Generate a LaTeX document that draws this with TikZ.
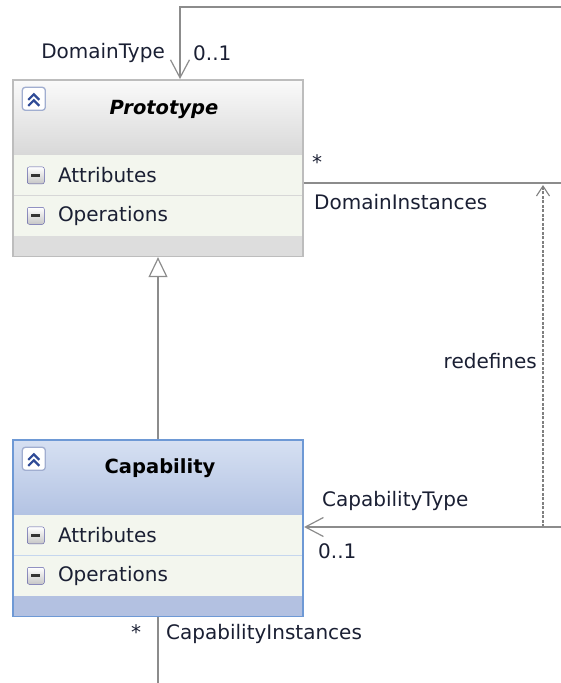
\documentclass[tikz,border=0pt]{standalone}
\usepackage{fontspec}
\setmainfont{DejaVu Sans}
\usetikzlibrary{arrows.meta}
\usetikzlibrary{fit}
\usetikzlibrary{positioning}
\definecolor{protoTop}{HTML}{FAFAFA}
\definecolor{protoBot}{HTML}{D8D8D8}
\definecolor{protoFoot}{HTML}{DDDDDD}
\definecolor{protoLine}{HTML}{BDBDBD}
\definecolor{capTop}{HTML}{D6E0F2}
\definecolor{capBot}{HTML}{B3C3E3}
\definecolor{capFoot}{HTML}{B3C1E1}
\definecolor{capLine}{HTML}{6E99D5}
\definecolor{rowFill}{HTML}{F3F6EE}
\definecolor{connGray}{HTML}{8C8C8C}
\definecolor{inkBlue}{HTML}{1A1F33}
\definecolor{iconBlue}{HTML}{2F4B97}
\tikzset{head/.style={rectangle, minimum width=290pt, minimum height=75pt, inner sep=0pt}}
\tikzset{protohead/.style={head, top color=protoTop, bottom color=protoBot}}
\tikzset{caphead/.style={head, top color=capTop, bottom color=capBot}}
\tikzset{row/.style={rectangle, fill=rowFill, minimum width=288pt, minimum height=40pt, inner sep=0pt}}
\tikzset{foot/.style={rectangle, minimum width=290pt, minimum height=20pt, inner sep=0pt}}
\tikzset{rowlabel/.style={anchor=west, xshift=44pt, inner sep=0pt, text=inkBlue}}
\tikzset{lbl/.style={inner sep=0pt, text=inkBlue, anchor=west}}
\tikzset{assoc/.style={draw=connGray, line width=1.4pt, -{Straight Barb[length=18pt, width=19pt, line width=1.2pt]}}}
\tikzset{gen/.style={draw=connGray, line width=1.4pt, -{Triangle[open, length=20pt, width=19pt, fill=white, line width=1.2pt]}}}
\tikzset{dep/.style={draw=gray, line width=1.4pt, dash pattern=on 3pt off 1.5pt, -{Straight Barb[length=10pt, width=13pt, line width=1.1pt]}}}
\tikzset{minusicon/.pic={
  \draw[rounded corners=2pt, draw=gray!70!blue, top color=white, bottom color=gray!45] (-8.5,-8.5) rectangle (8.5,8.5);
  \draw[line width=2.8pt, black!80] (-4.5,0) -- (4.5,0);
}}
\tikzset{collapseicon/.pic={
  \draw[rounded corners=3pt, draw=iconBlue!45, line width=1.3pt, fill=white] (-11.5,-11.5) rectangle (11.5,11.5);
  \draw[line width=2.2pt, iconBlue] (-5.5,1) -- (0,-4.5) -- (5.5,1);
  \draw[line width=2.2pt, iconBlue] (-5.5,7) -- (0,1.5) -- (5.5,7);
}}

\begin{document}
\begin{tikzpicture}[x=1pt, y=-1pt, font=\fontsize{20}{23}\selectfont]

    \useasboundingbox (0,0) rectangle (561,683);

    % Prototype
    \node[protohead, label={[xshift=6pt, yshift=8.5pt, font=\fontsize{19.5}{22}\selectfont]center:\textbf{\textit{Prototype}}}] (proto) at (158,117.5) {};
    \node[row, below=0pt of proto, label={[rowlabel]west:Attributes}] (pattr) {};
    \node[row, below=0pt of pattr, label={[rowlabel]west:Operations}] (pops) {};
    \node[foot, fill=protoFoot, below=0pt of pops] (pfoot) {};
    \draw[protoLine!60] (pattr.south west) -- (pattr.south east);
    \node[draw=protoLine, line width=1.5pt, fit=(proto)(pfoot), inner sep=0pt] (prototype) {};
    \pic at ([xshift=21pt, yshift=-19pt]proto.north west) {collapseicon};
    \pic at ([xshift=22pt]pattr.west) {minusicon};
    \pic at ([xshift=22pt]pops.west) {minusicon};

    % Capability
    \node[caphead, label={[xshift=2pt, yshift=9.5pt, font=\fontsize{19.5}{22}\selectfont]center:\textbf{Capability}}] (cap) at (158,477.5) {};
    \node[row, below=0pt of cap, label={[rowlabel]west:Attributes}] (cattr) {};
    \node[row, below=0pt of cattr, label={[rowlabel]west:Operations}] (cops) {};
    \node[foot, fill=capFoot, below=0pt of cops] (cfoot) {};
    \draw[capLine!40] (cattr.south west) -- (cattr.south east);
    \node[draw=capLine, line width=1.8pt, fit=(cap)(cfoot), inner sep=0pt] (capability) {};
    \pic at ([xshift=21pt, yshift=-19pt]cap.north west) {collapseicon};
    \pic at ([xshift=22pt]cattr.west) {minusicon};
    \pic at ([xshift=22pt]cops.west) {minusicon};

    % connectors
    \coordinate (dtturn) at (180,7);
    \coordinate (dtend) at (561,7);
    \coordinate (diend) at (561,183);
    \coordinate (ctend) at (561,527);
    \coordinate (rdfrom) at (543,527);
    \coordinate (rdto) at (543,185);
    \coordinate (ciend) at (158,683);

    \draw[assoc] (dtend) -- (dtturn) -- (dtturn |- prototype.north);
    \draw[connGray, line width=1.4pt] (diend -| prototype.east) -- (diend);
    \draw[dep] (rdfrom) -- (rdto);
    \draw[assoc] (ctend) -- (ctend -| capability.east);
    \draw[gen] (capability.north) -- (prototype.south);
    \draw[connGray, line width=1.4pt] (capability.south) -- (ciend);

    % labels
    \node[lbl, anchor=east] (ldomtype) at (165,53) {DomainType};
    \node[lbl] (ldommult) at (193,53) {0..1};
    \node[lbl] (linstmult) at (312,162) {*};
    \node[lbl] (ldominst) at (314,202) {DomainInstances};
    \node[lbl, anchor=east] (lredef) at (537,361) {redefines};
    \node[lbl] (lcaptype) at (322,501) {CapabilityType};
    \node[lbl] (lcapmult) at (318,551) {0..1};
    \node[lbl] (lcimult) at (131,632) {*};
    \node[lbl] (lcapinst) at (166,634) {CapabilityInstances};

\end{tikzpicture}
\end{document}
